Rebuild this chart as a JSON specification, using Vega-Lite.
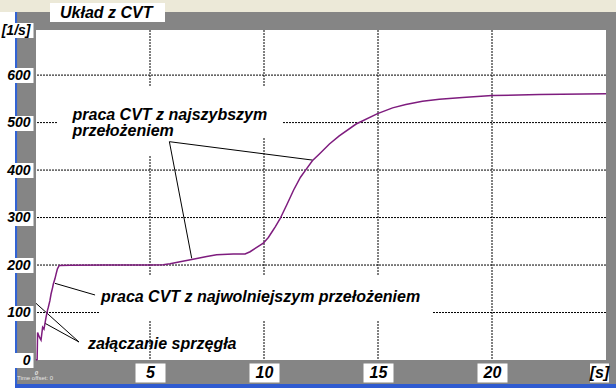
{
  "$schema": "https://vega.github.io/schema/vega-lite/v6.json",
  "width": 570,
  "height": 330,
  "autosize": {"type": "none"},
  "padding": {"left": 36, "top": 30, "right": 10, "bottom": 28},
  "background": "#858585",
  "view": {"fill": "white", "stroke": null},
  "datasets": {
    "curve": [
      {"t": 0.0, "v": 0}, {"t": 0.05, "v": 1}, {"t": 0.07, "v": 58}, {"t": 0.15, "v": 48},
      {"t": 0.22, "v": 42}, {"t": 0.29, "v": 69}, {"t": 0.35, "v": 65}, {"t": 0.39, "v": 76},
      {"t": 0.44, "v": 90}, {"t": 0.5, "v": 104}, {"t": 0.54, "v": 111}, {"t": 0.61, "v": 125},
      {"t": 0.66, "v": 139}, {"t": 0.73, "v": 153}, {"t": 0.76, "v": 160}, {"t": 0.83, "v": 171},
      {"t": 0.88, "v": 181}, {"t": 0.94, "v": 192}, {"t": 1.02, "v": 199}, {"t": 1.5, "v": 199.5},
      {"t": 3.0, "v": 200}, {"t": 5.0, "v": 200}, {"t": 5.58, "v": 200.5}, {"t": 5.88, "v": 202.5},
      {"t": 6.32, "v": 207}, {"t": 6.83, "v": 211.5}, {"t": 7.49, "v": 218}, {"t": 7.92, "v": 221.5},
      {"t": 8.65, "v": 223.5}, {"t": 9.17, "v": 223.5}, {"t": 9.39, "v": 228}, {"t": 9.68, "v": 237},
      {"t": 9.97, "v": 246}, {"t": 10.19, "v": 258}, {"t": 10.34, "v": 269}, {"t": 10.5, "v": 281},
      {"t": 10.7, "v": 297}, {"t": 11.0, "v": 327}, {"t": 11.3, "v": 358}, {"t": 11.6, "v": 385},
      {"t": 11.84, "v": 401}, {"t": 12.13, "v": 420}, {"t": 12.43, "v": 434}, {"t": 12.87, "v": 455},
      {"t": 13.3, "v": 472}, {"t": 14.04, "v": 497}, {"t": 14.98, "v": 519}, {"t": 15.64, "v": 531},
      {"t": 16.22, "v": 538}, {"t": 16.95, "v": 545}, {"t": 17.69, "v": 549}, {"t": 18.71, "v": 553},
      {"t": 20.0, "v": 557}, {"t": 22.07, "v": 559}, {"t": 25.0, "v": 561}
    ],
    "leaders": [
      {"t1": 5.85, "v1": 459.8, "t2": 6.83, "v2": 214},
      {"t1": 5.85, "v1": 459.8, "t2": 12.13, "v2": 421},
      {"t1": 0.83, "v1": 161.5, "t2": 2.59, "v2": 136.9},
      {"t1": 1.886, "v1": 37.9, "t2": 0.395, "v2": 77.3},
      {"t1": 1.886, "v1": 37.9, "t2": 0.0, "v2": 119.4}
    ],
    "labels": [
      {"t": 1.6, "v": 506.5, "text": "praca CVT z najszybszym\nprzełożeniem"},
      {"t": 2.85, "v": 122.8, "text": "praca CVT z najwolniejszym przełożeniem"},
      {"t": 2.28, "v": 23.2, "text": "załączanie sprzęgła"}
    ],
    "boxes": [
      {"t1": 0.965, "t2": 10.83, "v1": 467.6, "v2": 575},
      {"t1": 0.965, "t2": 6.32, "v1": 429.7, "v2": 575},
      {"t1": 2.807, "t2": 17.37, "v1": 84.2, "v2": 179}
    ],
    "ygrid": [{"v": 100}, {"v": 200}, {"v": 300}, {"v": 400}, {"v": 500}, {"v": 600}],
    "xgrid": [{"t": 5}, {"t": 10}, {"t": 15}, {"t": 20}]
  },
  "layer": [
    {
      "data": {"values": [{}]},
      "mark": {"type": "rect", "color": "#ECE9D8"},
      "encoding": {
        "x": {"datum": -2, "type": "quantitative", "scale": {"domain": [0, 25], "nice": false, "zero": false}},
        "x2": {"datum": 26},
        "y": {"datum": 733, "type": "quantitative", "scale": {"domain": [0, 695], "nice": false, "zero": false}},
        "y2": {"datum": 800}
      }
    },
    {
      "data": {"values": [{}]},
      "mark": {"type": "rect", "color": "white"},
      "encoding": {
        "x": {"datum": -2, "type": "quantitative", "scale": {"domain": [0, 25], "nice": false, "zero": false}},
        "x2": {"datum": -0.92},
        "y": {"datum": -70, "type": "quantitative", "scale": {"domain": [0, 695], "nice": false, "zero": false}},
        "y2": {"datum": 733}
      }
    },
    {
      "data": {"values": [{}]},
      "mark": {"type": "rect", "color": "#3163d6"},
      "encoding": {
        "x": {"datum": -0.92, "type": "quantitative", "scale": {"domain": [0, 25], "nice": false, "zero": false}},
        "x2": {"datum": -0.83},
        "y": {"datum": -70, "type": "quantitative", "scale": {"domain": [0, 695], "nice": false, "zero": false}},
        "y2": {"datum": 733}
      }
    },
    {
      "data": {"values": [{}]},
      "mark": {"type": "rect", "color": "#2f5bd0"},
      "encoding": {
        "x": {"datum": -0.92, "type": "quantitative", "scale": {"domain": [0, 25], "nice": false, "zero": false}},
        "x2": {"datum": 26},
        "y": {"datum": -70, "type": "quantitative", "scale": {"domain": [0, 695], "nice": false, "zero": false}},
        "y2": {"datum": -50.5}
      }
    },
    {
      "data": {"values": [{}]},
      "mark": {"type": "rect", "color": "white"},
      "encoding": {
        "x": {"datum": 0.614, "type": "quantitative", "scale": {"domain": [0, 25], "nice": false, "zero": false}},
        "x2": {"datum": 5.658},
        "y": {"datum": 711.9, "type": "quantitative", "scale": {"domain": [0, 695], "nice": false, "zero": false}},
        "y2": {"datum": 751.9}
      }
    },
    {
      "data": {"name": "ygrid"},
      "mark": {"type": "rule", "color": "black", "strokeDash": [2, 1], "strokeWidth": 1},
      "encoding": {
        "y": {"field": "v", "type": "quantitative", "scale": {"domain": [0, 695], "nice": false, "zero": false}}
      }
    },
    {
      "data": {"name": "xgrid"},
      "mark": {"type": "rule", "color": "black", "strokeDash": [2, 1], "strokeWidth": 1},
      "encoding": {
        "x": {"field": "t", "type": "quantitative", "scale": {"domain": [0, 25], "nice": false, "zero": false}}
      }
    },
    {
      "data": {"name": "boxes"},
      "mark": {"type": "rect", "color": "white"},
      "encoding": {
        "x": {"field": "t1", "type": "quantitative", "scale": {"domain": [0, 25], "nice": false, "zero": false}},
        "x2": {"field": "t2"},
        "y": {"field": "v1", "type": "quantitative", "scale": {"domain": [0, 695], "nice": false, "zero": false}},
        "y2": {"field": "v2"}
      }
    },
    {
      "data": {"name": "leaders"},
      "mark": {"type": "rule", "color": "black", "strokeWidth": 1},
      "encoding": {
        "x": {"field": "t1", "type": "quantitative", "scale": {"domain": [0, 25], "nice": false, "zero": false}},
        "x2": {"field": "t2"},
        "y": {"field": "v1", "type": "quantitative", "scale": {"domain": [0, 695], "nice": false, "zero": false}},
        "y2": {"field": "v2"}
      }
    },
    {
      "data": {"name": "curve"},
      "mark": {"type": "line", "color": "#7e1c7e", "strokeWidth": 1.5},
      "encoding": {
        "x": {
          "field": "t", "type": "quantitative",
          "scale": {"domain": [0, 25], "nice": false, "zero": false},
          "axis": {
            "values": [0, 5, 10, 15, 20, 24.69],
            "format": "d",
            "labelExpr": "datum.value > 24 ? '[s]' : datum.label",
            "title": null, "domain": false, "grid": false, "zindex": 1,
            "offset": 3, "tickSize": 19,
            "tickWidth": {"condition": {"test": "datum.value > 24", "value": 19}, "value": 30},
            "tickColor": "white",
            "tickOpacity": {"condition": {"test": "datum.value == 0", "value": 0}, "value": 1},
            "labelBaseline": "middle",
            "labelPadding": -9.5,
            "labelFlush": false, "labelOverlap": false, "labelBound": false,
            "labelFont": "Liberation Sans",
            "labelFontSize": {"condition": {"test": "datum.value == 0", "value": 6}, "value": 16},
            "labelFontStyle": "italic", "labelFontWeight": "bold",
            "labelColor": {"condition": {"test": "datum.value == 0", "value": "#e6e6e6"}, "value": "black"}
          }
        },
        "y": {
          "field": "v", "type": "quantitative",
          "scale": {"domain": [0, 695], "nice": false, "zero": false},
          "axis": {
            "values": [0, 100, 200, 300, 400, 500, 600, 694],
            "format": "d",
            "labelExpr": "datum.value > 650 ? '[1/s]' : datum.label",
            "title": null, "domain": false, "grid": false, "zindex": 1,
            "offset": 3, "tickSize": 33, "tickWidth": 15, "tickColor": "white",
            "labelPadding": -30,
            "labelOverlap": false, "labelBound": false,
            "labelFont": "Liberation Sans", "labelFontSize": 14,
            "labelFontStyle": "italic", "labelFontWeight": "bold", "labelColor": "black"
          }
        }
      }
    },
    {
      "data": {"name": "labels"},
      "mark": {"type": "text", "align": "left", "baseline": "alphabetic", "lineBreak": "\n", "lineHeight": 16, "font": "Liberation Sans", "fontSize": 16, "fontStyle": "italic", "fontWeight": "bold", "color": "black"},
      "encoding": {
        "x": {"field": "t", "type": "quantitative", "scale": {"domain": [0, 25], "nice": false, "zero": false}},
        "y": {"field": "v", "type": "quantitative", "scale": {"domain": [0, 695], "nice": false, "zero": false}},
        "text": {"field": "text"}
      }
    },
    {
      "data": {"values": [{}]},
      "mark": {"type": "text", "text": "Układ z CVT", "align": "left", "baseline": "alphabetic", "font": "Liberation Sans", "fontSize": 16, "fontStyle": "italic", "fontWeight": "bold", "color": "black"},
      "encoding": {
        "x": {"datum": 1.053, "type": "quantitative", "scale": {"domain": [0, 25], "nice": false, "zero": false}},
        "y": {"datum": 720.3, "type": "quantitative", "scale": {"domain": [0, 695], "nice": false, "zero": false}}
      }
    },
    {
      "data": {"values": [{}]},
      "mark": {"type": "text", "text": "Time offset:   0", "align": "left", "baseline": "alphabetic", "font": "Liberation Sans", "fontSize": 6, "color": "#e6e6e6"},
      "encoding": {
        "x": {"datum": -0.83, "type": "quantitative", "scale": {"domain": [0, 25], "nice": false, "zero": false}},
        "y": {"datum": -42, "type": "quantitative", "scale": {"domain": [0, 695], "nice": false, "zero": false}}
      }
    }
  ]
}
